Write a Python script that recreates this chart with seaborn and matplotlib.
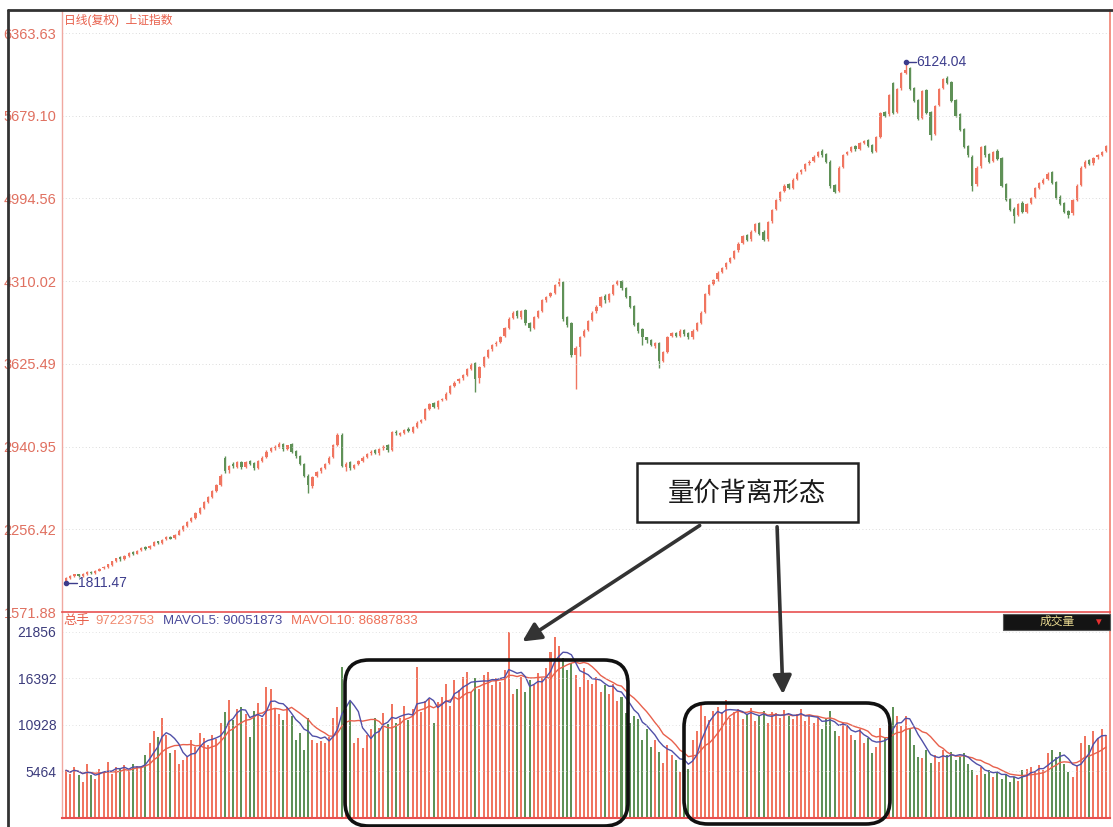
import numpy as np
import pandas as pd
import matplotlib
matplotlib.use('Agg')
import matplotlib.pyplot as plt
import seaborn as sns
from matplotlib.patches import Rectangle, FancyBboxPatch
from matplotlib.transforms import IdentityTransform

# daily candles (Shanghai composite, adjusted)
opens = [
    1830, 1852, 1872, 1885, 1868, 1890, 1905, 1895, 1915, 1935,
    1945, 1962, 1990, 2025, 2010, 2035, 2065, 2055, 2082, 2110,
    2098, 2122, 2155, 2145, 2172, 2195, 2182, 2212, 2250, 2285,
    2322, 2352, 2395, 2432, 2485, 2525, 2575, 2625, 2850, 2745,
    2800, 2775, 2815, 2770, 2820, 2805, 2765, 2822, 2855, 2905,
    2925, 2935, 2965, 2918, 2960, 2905, 2865, 2800, 2700, 2615,
    2695, 2735, 2765, 2805, 2855, 2955, 3040, 2770, 2810, 2765,
    2795, 2825, 2855, 2885, 2910, 2885, 2925, 2950, 2915, 3065,
    3040, 3055, 3090, 3065, 3105, 3145, 3170, 3255, 3300, 3265,
    3325, 3335, 3385, 3445, 3480, 3505, 3535, 3585, 3630, 3505,
    3610, 3685, 3745, 3790, 3805, 3855, 3925, 4005, 4060, 4010,
    4070, 3965, 3925, 4015, 4065, 4150, 4185, 4215, 4285, 4300,
    4010, 3960, 3700, 3765, 3860, 3905, 3990, 4060, 4105, 4190,
    4150, 4205, 4285, 4310, 4255, 4185, 4105, 3960, 3910, 3845,
    3820, 3775, 3800, 3650, 3725, 3855, 3885, 3855, 3905, 3880,
    3845, 3905, 3965, 4055, 4205, 4285, 4325, 4385, 4425, 4470,
    4505, 4565, 4625, 4690, 4655, 4725, 4790, 4720, 4655, 4805,
    4905, 4985, 5055, 5110, 5085, 5155, 5210, 5235, 5285, 5305,
    5345, 5390, 5360, 5300, 5105, 5055, 5255, 5360, 5390, 5425,
    5405, 5455, 5480, 5435, 5385, 5505, 5710, 5690, 5950, 5710,
    5905, 6035, 6070, 5910, 5810, 5660, 5890, 5710, 5530, 5770,
    5910, 5990, 5960, 5810, 5690, 5570, 5430, 5340, 5110, 5260,
    5430, 5360, 5305, 5390, 5330, 5110, 4990, 4910, 4860, 4960,
    4885, 4955, 5005, 5085, 5125, 5155, 5210, 5130, 5010, 4955,
    4890, 4870, 4985, 5105, 5255, 5310, 5285, 5335, 5355, 5385,
]
closes = [
    1855, 1870, 1880, 1872, 1890, 1902, 1895, 1915, 1930, 1942,
    1965, 1990, 2015, 2008, 2035, 2060, 2050, 2080, 2100, 2095,
    2120, 2150, 2145, 2170, 2190, 2180, 2210, 2245, 2280, 2320,
    2350, 2390, 2430, 2480, 2520, 2570, 2620, 2700, 2740, 2780,
    2780, 2810, 2770, 2810, 2800, 2760, 2820, 2850, 2900, 2930,
    2940, 2960, 2920, 2950, 2900, 2860, 2800, 2700, 2620, 2690,
    2730, 2760, 2800, 2850, 2950, 3040, 2780, 2800, 2760, 2790,
    2820, 2850, 2880, 2900, 2890, 2920, 2940, 2910, 3060, 3050,
    3050, 3080, 3070, 3100, 3140, 3160, 3250, 3290, 3270, 3320,
    3330, 3380, 3440, 3470, 3500, 3530, 3580, 3620, 3500, 3600,
    3680, 3740, 3780, 3800, 3850, 3920, 4000, 4050, 4020, 4060,
    3960, 3920, 4010, 4060, 4150, 4180, 4210, 4280, 4300, 4000,
    3950, 3700, 3760, 3850, 3900, 3980, 4050, 4100, 4180, 4150,
    4200, 4280, 4310, 4250, 4180, 4100, 3950, 3900, 3850, 3820,
    3780, 3800, 3650, 3720, 3850, 3880, 3860, 3900, 3870, 3850,
    3900, 3960, 4050, 4200, 4280, 4320, 4380, 4420, 4460, 4500,
    4560, 4620, 4680, 4650, 4720, 4780, 4700, 4650, 4800, 4900,
    4980, 5050, 5100, 5080, 5150, 5200, 5230, 5280, 5300, 5340,
    5380, 5350, 5300, 5100, 5050, 5250, 5350, 5380, 5420, 5400,
    5450, 5470, 5430, 5380, 5500, 5700, 5680, 5850, 5700, 5900,
    6030, 6060, 5900, 5800, 5650, 5880, 5700, 5520, 5760, 5900,
    5980, 5950, 5800, 5680, 5560, 5420, 5350, 5100, 5250, 5420,
    5350, 5300, 5380, 5320, 5100, 4980, 4900, 4850, 4950, 4880,
    4950, 5000, 5080, 5120, 5150, 5200, 5120, 5000, 4950, 4880,
    4860, 4980, 5100, 5250, 5300, 5280, 5330, 5350, 5380, 5430,
]
highs = [
    1862, 1878, 1890, 1890, 1895, 1910, 1910, 1920, 1938, 1950,
    1972, 1998, 2022, 2032, 2042, 2068, 2075, 2088, 2108, 2118,
    2128, 2158, 2162, 2178, 2198, 2200, 2218, 2255, 2288, 2328,
    2358, 2398, 2438, 2490, 2530, 2580, 2630, 2710, 2862, 2790,
    2815, 2820, 2825, 2820, 2830, 2815, 2830, 2860, 2910, 2940,
    2950, 2975, 2972, 2958, 2968, 2912, 2872, 2808, 2710, 2700,
    2740, 2770, 2808, 2860, 2960, 3050, 3055, 2815, 2820, 2800,
    2830, 2860, 2890, 2910, 2920, 2930, 2950, 2960, 3070, 3075,
    3060, 3090, 3100, 3110, 3150, 3170, 3260, 3300, 3310, 3330,
    3340, 3390, 3450, 3480, 3510, 3540, 3590, 3635, 3640, 3610,
    3690, 3750, 3790, 3815, 3860, 3930, 4010, 4065, 4070, 4070,
    4080, 3975, 4020, 4070, 4160, 4190, 4220, 4290, 4335, 4310,
    4020, 3970, 3770, 3860, 3910, 3990, 4060, 4110, 4190, 4200,
    4210, 4290, 4320, 4320, 4260, 4190, 4110, 3970, 3920, 3850,
    3830, 3810, 3805, 3730, 3860, 3890, 3890, 3910, 3910, 3890,
    3910, 3970, 4060, 4210, 4290, 4330, 4390, 4430, 4470, 4510,
    4570, 4630, 4690, 4700, 4730, 4790, 4800, 4730, 4810, 4910,
    4990, 5060, 5110, 5120, 5160, 5210, 5240, 5290, 5310, 5350,
    5390, 5400, 5370, 5310, 5110, 5260, 5360, 5390, 5430, 5435,
    5460, 5480, 5490, 5445, 5510, 5710, 5720, 5860, 5960, 5910,
    6040, 6124.04, 6080, 5920, 5820, 5890, 5900, 5720, 5770, 5910,
    5990, 6010, 5970, 5820, 5700, 5580, 5440, 5350, 5260, 5430,
    5440, 5370, 5390, 5400, 5340, 5120, 5000, 4920, 4960, 4970,
    4960, 5010, 5090, 5130, 5160, 5210, 5220, 5140, 5020, 4965,
    4900, 4990, 5110, 5260, 5310, 5320, 5340, 5360, 5390, 5440,
]
lows = [
    1811.47, 1845, 1865, 1865, 1860, 1882, 1885, 1888, 1910, 1928,
    1938, 1955, 1982, 1998, 2002, 2028, 2042, 2048, 2076, 2085,
    2090, 2115, 2135, 2138, 2165, 2172, 2175, 2205, 2240, 2278,
    2315, 2345, 2385, 2425, 2478, 2515, 2565, 2615, 2720, 2725,
    2765, 2765, 2755, 2762, 2790, 2745, 2755, 2812, 2845, 2895,
    2915, 2925, 2905, 2910, 2890, 2850, 2790, 2690, 2560, 2600,
    2685, 2725, 2755, 2795, 2845, 2945, 2770, 2740, 2745, 2755,
    2785, 2815, 2845, 2875, 2880, 2875, 2915, 2900, 2905, 3035,
    3030, 3045, 3060, 3055, 3095, 3135, 3160, 3240, 3260, 3255,
    3315, 3325, 3375, 3435, 3470, 3495, 3525, 3575, 3390, 3470,
    3600, 3675, 3735, 3775, 3795, 3845, 3915, 3995, 4005, 4000,
    3950, 3900, 3915, 4005, 4055, 4140, 4175, 4205, 4270, 3980,
    3930, 3680, 3420, 3690, 3850, 3895, 3980, 4050, 4095, 4130,
    4140, 4195, 4275, 4240, 4170, 4090, 3940, 3880, 3780, 3800,
    3770, 3760, 3590, 3640, 3715, 3845, 3850, 3845, 3860, 3830,
    3835, 3895, 3955, 4045, 4195, 4275, 4315, 4375, 4410, 4460,
    4495, 4555, 4615, 4640, 4645, 4715, 4690, 4640, 4645, 4795,
    4895, 4975, 5045, 5070, 5075, 5145, 5200, 5225, 5275, 5295,
    5335, 5340, 5290, 5080, 5040, 5045, 5245, 5350, 5380, 5390,
    5395, 5445, 5420, 5370, 5375, 5495, 5670, 5680, 5690, 5700,
    5895, 6025, 5890, 5790, 5640, 5650, 5690, 5480, 5520, 5760,
    5900, 5940, 5790, 5670, 5550, 5410, 5340, 5060, 5100, 5250,
    5340, 5290, 5295, 5310, 5090, 4970, 4890, 4790, 4850, 4870,
    4875, 4945, 4995, 5075, 5115, 5145, 5110, 4990, 4940, 4870,
    4830, 4860, 4975, 5095, 5245, 5270, 5275, 5325, 5345, 5375,
]
volumes = [
    5600, 5200, 6000, 5100, 4200, 6300, 5000, 4600, 5800, 5400,
    6600, 5200, 6000, 5800, 6200, 5500, 6400, 6100, 5900, 7400,
    8800, 10200, 9500, 11800, 9800, 7600, 8000, 6400, 6800, 7200,
    9200, 8400, 10000, 9400, 8600, 9800, 9300, 11200, 12500, 13900,
    11500, 12800, 13000, 12200, 9500, 12600, 13500, 11800, 15400, 15200,
    12800, 12200, 11500, 13000, 12000, 9200, 10000, 8000, 11800, 9200,
    8800, 9000, 8800, 9500, 11800, 13000, 17700, 12800, 13800, 8800,
    9400, 8200, 9800, 10500, 11800, 10600, 12300, 11000, 13400, 11200,
    11800, 13200, 11500, 12800, 17700, 12400, 13700, 14000, 11200, 13600,
    14200, 15800, 13200, 16200, 15000, 16600, 17200, 14800, 16500, 15200,
    16800, 17200, 15600, 16400, 16000, 17400, 21800, 14600, 15200, 16600,
    14800, 16200, 15600, 17000, 16400, 17600, 19500, 21300, 20200, 18800,
    17400, 18200, 16800, 15400, 17600, 16200, 15800, 16600, 14800, 15600,
    14600, 15800, 13800, 14200, 12300, 11200, 12000, 11600, 9200, 10400,
    8400, 9200, 7800, 6500, 8600, 7400, 6800, 5400, 6200, 5800,
    9200, 10200, 13500, 12000, 11500, 12600, 13000, 12400, 13900, 11800,
    12400, 12800, 11600, 12200, 12900, 11400, 12000, 12600, 11200, 12500,
    12300, 11800, 12700, 12000, 11600, 12200, 12800, 11400, 12000, 11200,
    11800, 10400, 11600, 12600, 10200, 9600, 11200, 10800, 9800, 9200,
    10400, 8800, 9400, 7600, 8400, 10600, 9400, 10800, 13000, 12000,
    10800, 12000, 10500, 8600, 7200, 7000, 8000, 6500, 7400, 6600,
    8000, 7400, 7800, 6800, 7200, 7600, 6400, 5600, 5000, 6000,
    5200, 5600, 4800, 5400, 4600, 5200, 4200, 4800, 4400, 5600,
    5800, 6000, 5400, 6200, 5600, 7600, 8000, 7200, 7800, 6400,
    5400, 4800, 6200, 8800, 9600, 8600, 10200, 9400, 10500, 9800,
]
price_ticks = [1571.88, 2256.42, 2940.95, 3625.49, 4310.02, 4994.56, 5679.10, 6363.63]
vol_ticks = [5464, 10928, 16392, 21856]

UP = '#f07560'
DOWN = '#5f9157'
W, H = 1113, 827

df = pd.DataFrame({'open': opens, 'close': closes, 'high': highs, 'low': lows, 'vol': volumes})
df['i'] = np.arange(len(df))
df['ma5'] = df['vol'].rolling(5, min_periods=1).mean()
df['ma10'] = df['vol'].rolling(10, min_periods=1).mean()
up = df['close'] >= df['open']
colors = np.where(up, UP, DOWN)

sns.set_theme(style='white')
plt.rcParams['font.family'] = ['Liberation Sans', 'Noto Sans CJK SC', 'DejaVu Sans']

fig = plt.figure(figsize=(W / 100, H / 100), dpi=100)


def rect(l, t, r, b):
    return [l / W, 1 - b / H, (r - l) / W, (b - t) / H]


ax_p = fig.add_axes(rect(62, 10, 1110, 612))
ax_v = fig.add_axes(rect(62, 612, 1110, 818), sharex=ax_p)

# price panel
ax_p.vlines(df['i'], df['low'], df['high'], colors=colors, lw=1.0)
body = (df['close'] - df['open']).abs().clip(lower=12)
ax_p.bar(df['i'], body, bottom=df[['open', 'close']].min(axis=1), width=0.55, color=colors, linewidth=0)
ax_p.set_ylim(1571.88, 6554)
ax_p.set_xlim(-0.96, 249.96)
ax_p.set_yticks(price_ticks)
ax_p.set_yticklabels([f'{t:.2f}' for t in price_ticks], color='#e07060', fontsize=10.5)
ax_p.tick_params(axis='y', length=0, pad=4)
ax_p.tick_params(axis='x', bottom=False, labelbottom=False)
for t in price_ticks[1:]:
    ax_p.axhline(t, color='#d0d0d0', lw=0.6, ls=(0, (1, 3)))

# volume panel
ax_v.bar(df['i'], df['vol'], width=0.48, color=colors, linewidth=0)
sns.lineplot(data=df, x='i', y='ma10', ax=ax_v, color='#e8604c', lw=1.0)
sns.lineplot(data=df, x='i', y='ma5', ax=ax_v, color='#5050a8', lw=1.0)
ax_v.set_ylim(0, 24206)
ax_v.set_yticks(vol_ticks)
ax_v.set_yticklabels([str(t) for t in vol_ticks], color='#3c3c7c', fontsize=10)
ax_v.tick_params(axis='y', length=0, pad=4)
ax_v.tick_params(axis='x', bottom=False, labelbottom=False)
ax_v.set_xlabel('')
ax_v.set_ylabel('')
for t in vol_ticks:
    ax_v.axhline(t, color='#d8d8d8', lw=0.6, ls=(0, (1, 3)))

for ax in (ax_p, ax_v):
    for s in ax.spines.values():
        s.set_visible(False)
    ax.spines['left'].set_visible(True)
    ax.spines['left'].set_color('#f0a8a0')
    ax.spines['left'].set_linewidth(1)
    ax.spines['right'].set_visible(True)
    ax.spines['right'].set_color('#f08070')
    ax.spines['right'].set_linewidth(1.2)
ax_v.spines['top'].set_visible(True)
ax_v.spines['top'].set_color('#e85050')
ax_v.spines['top'].set_linewidth(1.2)
ax_v.spines['bottom'].set_visible(True)
ax_v.spines['bottom'].set_color('#e85050')
ax_v.spines['bottom'].set_linewidth(1.5)

# high / low markers
navy = '#3c3c8c'
ax_p.plot([0, 2.6], [1811.47, 1811.47], color=navy, lw=1)
ax_p.plot(0, 1811.47, 'o', ms=3, color=navy)
ax_p.text(2.8, 1811.47, '1811.47', color=navy, fontsize=10, va='center')
ax_p.plot([201, 203.4], [6124.04, 6124.04], color=navy, lw=1)
ax_p.plot(201, 6124.04, 'o', ms=3, color=navy)
ax_p.text(203.6, 6124.04, '6124.04', color=navy, fontsize=10, va='center')


def ftext(x, y, s, **kw):
    fig.text(x / W, 1 - y / H, s, **kw)


ftext(64, 20, '日线(复权)  上证指数', color='#e8604c', fontsize=8.5, va='center')
ftext(63, 621, '总手', color='#e8604c', fontsize=9.5, va='center')
ftext(95, 621, '97223753', color='#f08a70', fontsize=9.5, va='center')
ftext(163, 621, 'MAVOL5: 90051873', color='#4a4a9a', fontsize=9.5, va='center')
ftext(291, 621, 'MAVOL10: 86887833', color='#ee7058', fontsize=9.5, va='center')

# 成交量 tag
fig.add_artist(Rectangle((1003, H - 630), 107, 16, transform=IdentityTransform(),
                         facecolor='#141414', edgecolor='#555555', lw=0.8))
ftext(1057, 622, '成交量', color='#e8d890', fontsize=8.5, va='center', ha='center')
ftext(1098, 622, '▼', color='#e83030', fontsize=7, va='center', ha='center')

# outer frame
fig.add_artist(plt.Line2D([8, 8], [0, H - 10], transform=IdentityTransform(), color='#333333', lw=2))
fig.add_artist(plt.Line2D([8, W], [H - 10, H - 10], transform=IdentityTransform(), color='#333333', lw=2))

# rounded highlight boxes
for (l, t, r, b) in [(345, 660, 628, 826), (684, 703, 890, 824)]:
    fig.add_artist(FancyBboxPatch((l, H - b), r - l, b - t, boxstyle='round,pad=0,rounding_size=24',
                                  transform=IdentityTransform(), facecolor='none',
                                  edgecolor='#111111', lw=2.6))

# label box and arrows
fig.add_artist(Rectangle((637, H - 522), 221, 59, transform=IdentityTransform(),
                         facecolor='white', edgecolor='#222222', lw=1.8))
ftext(747, 493, '量价背离形态', color='#1a1a1a', fontsize=19, va='center', ha='center')
for (x0, y0, x1, y1) in [(702, 524, 520, 643), (777, 524, 783, 697)]:
    fig.add_artist(matplotlib.patches.FancyArrowPatch(
        (x0, H - y0), (x1, H - y1), transform=IdentityTransform(),
        arrowstyle='-|>', mutation_scale=28, color='#333333', lw=2.6))

fig.savefig('out.png', dpi=100)
